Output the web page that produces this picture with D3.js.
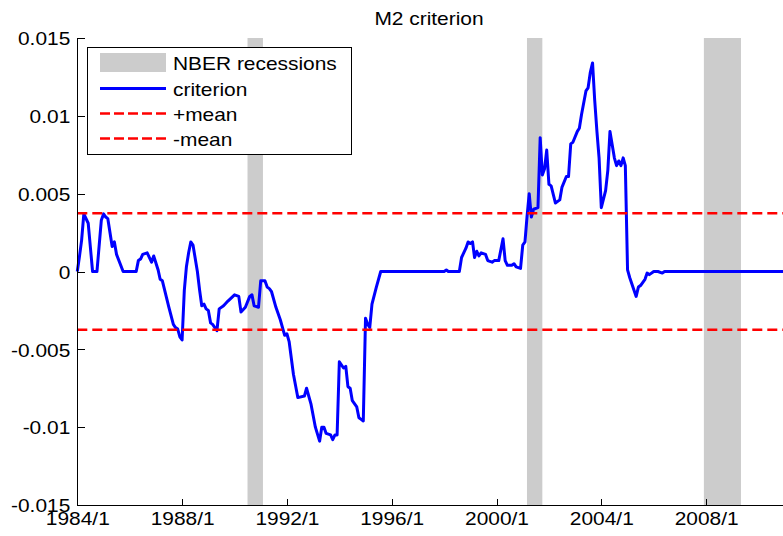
<html>
<head>
<meta charset="utf-8">
<title>M2 criterion</title>
<style>
body { margin: 0; background: #fff; }
svg text {
  font-family: "Liberation Sans", Arial, sans-serif;
  font-size: 18.5px;
  fill: #000;
}
.axis path, .axis line { stroke: #000; stroke-width: 1; shape-rendering: crispEdges; }
</style>
</head>
<body>
<svg id="plot" width="783" height="536"></svg>
<script src="https://cdn.jsdelivr.net/npm/d3@7"></script>
<script>
// monthly criterion values (months not listed lie on straight segments)
const months = [
  '1984/1', '1984/2', '1984/3', '1984/4', '1984/6', '1984/8', '1984/10', '1984/12',
  '1985/1', '1985/2', '1985/3', '1985/5', '1985/6', '1985/7', '1985/10',
  '1986/4', '1986/5', '1986/6', '1986/7', '1986/9', '1986/11', '1986/12',
  '1987/2', '1987/3', '1987/4', '1987/7', '1987/9', '1987/10', '1987/11', '1987/12',
  '1988/1', '1988/2', '1988/3', '1988/4', '1988/5', '1988/6', '1988/8', '1988/9',
  '1988/10', '1988/11', '1988/12',
  '1989/1', '1989/2', '1989/3', '1989/5', '1989/6', '1989/8', '1989/10',
  '1990/1', '1990/3', '1990/4', '1990/6', '1990/8', '1990/9', '1990/10', '1990/12',
  '1991/1', '1991/3', '1991/4', '1991/5', '1991/6', '1991/8', '1991/10', '1991/12',
  '1992/1', '1992/2', '1992/4', '1992/6', '1992/9', '1992/10', '1992/12',
  '1993/2', '1993/4', '1993/5', '1993/6', '1993/7', '1993/9', '1993/10', '1993/11', '1993/12',
  '1994/1', '1994/3', '1994/4', '1994/5', '1994/6', '1994/7', '1994/9', '1994/10',
  '1994/11', '1994/12',
  '1995/1', '1995/2', '1995/3', '1995/4', '1995/6', '1995/8',
  '1998/1', '1998/2', '1998/3', '1998/8', '1998/9', '1998/11', '1998/12',
  '1999/1', '1999/2', '1999/3', '1999/4', '1999/5', '1999/6', '1999/8', '1999/9',
  '1999/11', '1999/12',
  '2000/2', '2000/4', '2000/5', '2000/6', '2000/8', '2000/9', '2000/10', '2000/12',
  '2001/1', '2001/2', '2001/3', '2001/4', '2001/5', '2001/6', '2001/8', '2001/9',
  '2001/10', '2001/11', '2001/12',
  '2002/1', '2002/2', '2002/4', '2002/6', '2002/7', '2002/9', '2002/10', '2002/11', '2002/12',
  '2003/2', '2003/3', '2003/4', '2003/6', '2003/7', '2003/8', '2003/9', '2003/10',
  '2003/11', '2003/12',
  '2004/1', '2004/3', '2004/4', '2004/5', '2004/7', '2004/8', '2004/9', '2004/10',
  '2004/11', '2004/12',
  '2005/1', '2005/2', '2005/4', '2005/5', '2005/6', '2005/7', '2005/9', '2005/10', '2005/11',
  '2006/1', '2006/2', '2006/3', '2006/5', '2006/6',
  '2011/12'
];

const criterion = [
  0, 0.001, 0.002, 0.0037, 0.0031, 0, 0, 0.0033,
  0.0037, 0.0035, 0.0034, 0.0016, 0.0019, 0.0011, 0,
  0, 0.0007, 0.0008, 0.0011, 0.0012, 0.0006, 0.001,
  0.0001, -0.0005, -0.0006, -0.0023, -0.0034, -0.0036, -0.0037, -0.0042,
  -0.0044, -0.0012, 0.0003, 0.0012, 0.0019, 0.0017, 0, -0.0012,
  -0.0022, -0.0021, -0.0024,
  -0.0025, -0.0033, -0.0034, -0.0038, -0.0024, -0.0022, -0.0019,
  -0.0015, -0.0016, -0.0026, -0.0023, -0.0016, -0.0015, -0.0022, -0.0023,
  -0.0006, -0.0006, -0.001, -0.0011, -0.0013, -0.0023, -0.0031, -0.0041,
  -0.004, -0.0045, -0.0066, -0.0081, -0.008, -0.0075, -0.0085,
  -0.01, -0.0109, -0.01, -0.01, -0.0104, -0.0105, -0.0108, -0.0105, -0.0105,
  -0.0058, -0.0062, -0.0061, -0.0074, -0.0075, -0.0083, -0.0087, -0.0094,
  -0.0095, -0.0096,
  -0.003, -0.0034, -0.0036, -0.0021, -0.001, 0,
  0, 0.0001, 0, 0, 0.0009, 0.0015, 0.0019,
  0.0018, 0.0019, 0.0009, 0.0013, 0.001, 0.0012, 0.0011, 0.0007,
  0.0006, 0.0007,
  0.0007, 0.0021, 0.0007, 0.0004, 0.0004, 0.0005, 0.0003, 0.0002,
  0.0017, 0.0019, 0.0035, 0.005, 0.0035, 0.004, 0.0041, 0.0086,
  0.0062, 0.0066, 0.0078,
  0.0056, 0.0055, 0.0044, 0.0046, 0.0054, 0.0061, 0.0061, 0.0082, 0.0083,
  0.009, 0.0092, 0.0101, 0.0116, 0.0118, 0.0128, 0.0134, 0.011,
  0.009, 0.0073,
  0.0041, 0.0052, 0.0065, 0.009, 0.0073, 0.0068, 0.0071, 0.0068,
  0.0073, 0.0068,
  0.0001, -0.0004, -0.0012, -0.0016, -0.001, -0.0009, -0.0005, -0.0001, -0.0002,
  0, 0, 0, -0.0001, 0,
  0
];

// shaded recession bands (start, end month as drawn)
const recessionStart = ['1990/7', '2001/3', '2007/12'];
const recessionEnd = ['1991/2', '2001/10', '2009/5'];

const meanLevel = 0.00374;

const xTickLabels = ['1984/1', '1988/1', '1992/1', '1996/1', '2000/1', '2004/1', '2008/1'];
const yTicks = [-0.015, -0.01, -0.005, 0, 0.005, 0.01, 0.015];

const legendLabels = ['NBER recessions', 'criterion', '+mean', '-mean'];

// glyphs in the picture are wider than Arial at this height
const TEXT_STRETCH = 1.13;

const parseMonth = d3.timeParse('%Y/%m');

const plotLeft = 77.3, plotTop = 38, plotBottom = 505, pxPerYear = 26.2;
const svg = d3.select('#plot');

const x = d3.scaleTime()
  .domain([new Date(1984, 0, 1), new Date(2012, 0, 1)])
  .range([plotLeft, plotLeft + 28 * pxPerYear]);
const y = d3.scaleLinear()
  .domain([-0.015, 0.015])
  .range([plotBottom, plotTop]);

function stretch(sel) {
  sel.each(function() {
    const w = this.getComputedTextLength();
    d3.select(this)
      .attr('textLength', w * TEXT_STRETCH)
      .attr('lengthAdjust', 'spacingAndGlyphs');
  });
}

// recession bands
svg.append('g')
  .selectAll('rect')
  .data(recessionStart.map((s, i) => [parseMonth(s), parseMonth(recessionEnd[i])]))
  .join('rect')
  .attr('x', d => x(d[0]))
  .attr('width', d => x(d[1]) - x(d[0]))
  .attr('y', plotTop)
  .attr('height', plotBottom - plotTop)
  .attr('fill', '#cccccc');

// criterion line
const points = months.map((m, i) => ({ date: parseMonth(m), value: criterion[i] }));
svg.append('path')
  .datum(points)
  .attr('fill', 'none')
  .attr('stroke', '#0000ff')
  .attr('stroke-width', 3)
  .attr('stroke-linejoin', 'round')
  .attr('d', d3.line().x(d => x(d.date)).y(d => y(d.value)));

// +mean / -mean
svg.append('g')
  .selectAll('line')
  .data([meanLevel, -meanLevel])
  .join('line')
  .attr('x1', plotLeft)
  .attr('x2', x.range()[1])
  .attr('y1', d => y(d))
  .attr('y2', d => y(d))
  .attr('stroke', '#ff0000')
  .attr('stroke-width', 2.5)
  .attr('stroke-dasharray', '10,5');

// axes, MATLAB style ticks pointing inward
const xAxis = d3.axisBottom(x)
  .tickValues(xTickLabels.map(parseMonth))
  .tickFormat((d, i) => xTickLabels[i])
  .tickSizeInner(-6)
  .tickSizeOuter(0)
  .tickPadding(7);
const gx = svg.append('g')
  .attr('class', 'axis')
  .attr('transform', `translate(0,${plotBottom})`)
  .call(xAxis);
gx.selectAll('text')
  .attr('font-size', null)
  .attr('font-family', null)
  .attr('dy', '0.71em');

const yAxis = d3.axisLeft(y)
  .tickValues(yTicks)
  .tickFormat(d => d === 0 ? '0' : String(+d.toFixed(3)))
  .tickSizeInner(-8)
  .tickSizeOuter(0)
  .tickPadding(7);
const gy = svg.append('g')
  .attr('class', 'axis')
  .attr('transform', `translate(${plotLeft},0)`)
  .call(yAxis);
gy.selectAll('text')
  .attr('font-size', null)
  .attr('font-family', null)
  .attr('dy', '0.36em');
gx.selectAll('.domain, .tick line').attr('stroke', '#000');
gy.selectAll('.domain, .tick line').attr('stroke', '#000');
stretch(gx.selectAll('text'));
stretch(gy.selectAll('text'));

// title
svg.append('text')
  .attr('x', 429)
  .attr('y', 25)
  .attr('text-anchor', 'middle')
  .text('M2 criterion')
  .call(stretch);

// legend
const legend = svg.append('g');
legend.append('rect')
  .attr('x', 87.5)
  .attr('y', 47.5)
  .attr('width', 264)
  .attr('height', 107)
  .attr('fill', '#fff')
  .attr('stroke', '#000')
  .attr('stroke-width', 1);

const rowY = [62, 88.5, 113.5, 138.5];
legend.append('rect')
  .attr('x', 100)
  .attr('y', 53)
  .attr('width', 66)
  .attr('height', 19)
  .attr('fill', '#cccccc');
legend.append('line')
  .attr('x1', 100).attr('x2', 166)
  .attr('y1', rowY[1]).attr('y2', rowY[1])
  .attr('stroke', '#0000ff')
  .attr('stroke-width', 3);
legend.selectAll('.dash')
  .data([rowY[2], rowY[3]])
  .join('line')
  .attr('class', 'dash')
  .attr('x1', 100).attr('x2', 166)
  .attr('y1', d => d).attr('y2', d => d)
  .attr('stroke', '#ff0000')
  .attr('stroke-width', 2.5)
  .attr('stroke-dasharray', '10,4');
legend.selectAll('.label')
  .data(legendLabels)
  .join('text')
  .attr('class', 'label')
  .attr('x', 173)
  .attr('y', (d, i) => rowY[i] + 7.5)
  .text(d => d)
  .call(stretch);
</script>
</body>
</html>
